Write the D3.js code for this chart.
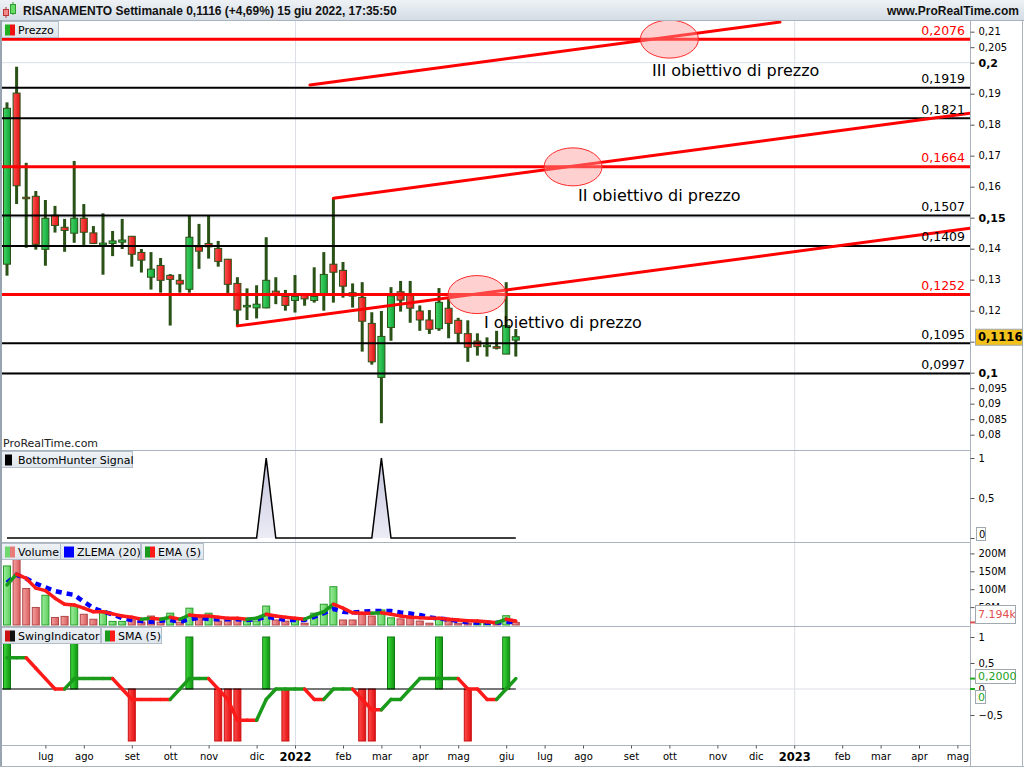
<!DOCTYPE html>
<html><head><meta charset="utf-8">
<script src="https://d3js.org/d3.v7.min.js"></script>
<style>
html,body{margin:0;padding:0;background:#fff;}
svg{display:block;}
text{font-family:"DejaVu Sans",sans-serif;}
</style></head><body>
<svg id="chart" width="1024" height="768"></svg>
<script>
// ---------------- DATA ----------------
const firstMonday = "2021-06-07", endExclusive = "2022-06-14";
const opens  = [0.1350,0.1902,0.1566,0.1569,0.1398,0.1508,0.1469,0.1450,0.1498,0.1451,
                0.1412,0.1417,0.1421,0.1440,0.1388,0.1308,0.1346,0.1314,0.1298,0.1269,
                0.1406,0.1417,0.1401,0.1366,0.1288,0.1213,0.1209,0.1209,0.1263,0.1246,
                0.1233,0.1250,0.1233,0.1250,0.1350,0.1330,0.1258,0.1243,0.1159,0.0985,
                0.1146,0.1261,0.1251,0.1199,0.1170,0.1142,0.1208,0.1169,0.1126,0.1102,
                0.1084,0.1084,0.1060,0.1105];
const highs  = [0.1872,0.1987,0.1677,0.1586,0.1557,0.1538,0.1496,0.1683,0.1544,0.1473,
                0.1514,0.1457,0.1496,0.1441,0.1399,0.1389,0.1370,0.1318,0.1318,0.1508,
                0.1480,0.1508,0.1425,0.1367,0.1308,0.1272,0.1282,0.1437,0.1308,0.1267,
                0.1315,0.1256,0.1340,0.1389,0.1563,0.1357,0.1288,0.1292,0.1195,0.1199,
                0.1276,0.1296,0.1296,0.1217,0.1202,0.1273,0.1240,0.1177,0.1169,0.1127,
                0.1114,0.1135,0.1292,0.1141];
const lows   = [0.1313,0.1544,0.1403,0.1397,0.1345,0.1452,0.1390,0.1419,0.1412,0.1415,
                0.1316,0.1376,0.1399,0.1342,0.1323,0.1268,0.1258,0.1152,0.1258,0.1258,
                0.1335,0.1368,0.1342,0.1256,0.1151,0.1170,0.1175,0.1208,0.1221,0.1200,
                0.1194,0.1216,0.1226,0.1200,0.1226,0.1242,0.1210,0.1068,0.1026,0.0837,
                0.1103,0.1197,0.1161,0.1135,0.1125,0.1135,0.1111,0.1095,0.1035,0.1055,
                0.1052,0.1075,0.1060,0.1052];
const closes = [0.1853,0.1603,0.1565,0.1414,0.1498,0.1475,0.1459,0.1498,0.1453,0.1417,
                0.1418,0.1425,0.1428,0.1382,0.1363,0.1334,0.1298,0.1301,0.1286,0.1437,
                0.1392,0.1406,0.1359,0.1285,0.1202,0.1217,0.1221,0.1298,0.1250,0.1217,
                0.1246,0.1238,0.1246,0.1317,0.1324,0.1279,0.1247,0.1166,0.1035,0.1117,
                0.1248,0.1234,0.1208,0.1170,0.1140,0.1227,0.1159,0.1127,0.1082,0.1084,
                0.1089,0.1079,0.1152,0.1116];
const volumeM = [165,195,102,49,83,21,24,54,30,16,
                 40,10,10,14,8,25,8,33,8,47,
                 23,33,11,14,16,11,11,53,14,11,
                 14,5,33,58,107,14,14,30,25,42,
                 20,17,20,11,5,16,11,5,5,4,
                 4,4,26,7.2];
const emaVolM = [112,142,130,103,96,75,58,56,47,37,
                 37,31,25,21.5,16,19,16,21.5,16,28,
                 25,25,21.5,19,19,16,19,30,25,21.5,
                 19,16,28,37,58,47,34,33,33,34,
                 30,25,22,20,19,19,16,14,12,11,
                 9,6.5,16,11];
const zlemaVolM = [118,140,130,116,105,95,89,84,65,47,
                   37,30,19,14,11,9,12,14,9,16,
                   20,17,16,16,16,14,16,23,19,14,
                   14,14,23,33,45,37,35,37,39,39,
                   39,35,32,28,21.5,17.6,16,11,8,6.4,
                   6.4,6.4,9,8];
const bottomHunter = [0,0,0,0,0,0,0,0,0,0,
                      0,0,0,0,0,0,0,0,0,0,
                      0,0,0,0,0,0,0,1,0,0,
                      0,0,0,0,0,0,0,0,0,1,
                      0,0,0,0,0,0,0,0,0,0,
                      0,0,0,0];
const swing = [1,0,0,0,0,0,0,1,0,0,
               0,0,0,-1,0,0,0,0,0,1,
               0,0,-1,-1,-1,0,0,1,0,-1,
               0,0,0,0,0,0,0,-1,-1,0,
               1,0,0,0,0,1,0,0,-1,0,
               0,0,1,0];
const swingSma = [0.6,0.6,0.6,0.4,0.2,0,0,0.2,0.2,0.2,
                  0.2,0.2,0,-0.2,-0.2,-0.2,-0.2,-0.2,0,0.2,
                  0.2,0.2,0,-0.2,-0.6,-0.6,-0.6,-0.2,0,0,
                  0,0,-0.2,-0.2,0,0,0,-0.2,-0.4,-0.4,
                  -0.2,-0.2,0,0.2,0.2,0.2,0.2,0.2,0,0,
                  -0.2,-0.2,0,0.2];
const monthTickDates = ["2021-07-05","2021-08-02","2021-09-06","2021-10-04","2021-11-01","2021-12-06",
                        "2022-01-03","2022-02-07","2022-03-07","2022-04-04","2022-05-02","2022-06-06",
                        "2022-07-04","2022-08-01","2022-09-05","2022-10-03","2022-11-07","2022-12-05",
                        "2023-01-02","2023-02-06","2023-03-06","2023-04-03","2023-05-01"];
const monthTickLabels = ["lug","ago","set","ott","nov","dic","2022","feb","mar","apr","mag","giu",
                         "lug","ago","set","ott","nov","dic","2023","feb","mar","apr","mag"];
const priceTicks = [0.08,0.085,0.09,0.095,0.1,0.11,0.12,0.13,0.14,0.15,0.16,0.17,0.18,0.19,0.2,0.205,0.21];
const priceTicksBold = [0.1,0.15,0.2];
const priceTicksHidden = [0.11];   // label covered by the last-price box
const levelValues = [0.2076,0.1919,0.1821,0.1664,0.1507,0.1409,0.1252,0.1095,0.0997];
const levelIsTarget = [true,false,false,true,false,false,true,false,false];
const trendStartWeek = [24,34,31.56], trendStartPrice = [0.1151,0.1563,0.1928];
const trendEndWeek = [100.3,100.3,80.52], trendEndPrice = [0.1466,0.1837,0.2131];
const targetWeek = [48.96,58.96,69.0], targetPrice = [0.1252,0.1664,0.2076];
const targetLabels = ["I obiettivo di prezzo","II obiettivo di prezzo","III obiettivo di prezzo"];
const targetLabelWeek = [49.69,59.48,67.19], targetLabelPrice = [0.1143,0.1554,0.1957];
const lastPrice = "0,1116", lastVolume = "7.194k", lastSma = "0,2000", lastSwing = "0", lastBH = "0";
const title = "RISANAMENTO Settimanale 0,1116 (+4,69%) 15 giu 2022, 17:35:50";

// ---------------- SETUP ----------------
const svg = d3.select("#chart");
const defs = svg.append("defs");
function grad(id, c1, c2, vertical){
  const g = defs.append("linearGradient").attr("id", id)
    .attr("x1",0).attr("y1",0).attr("x2",vertical?0:1).attr("y2",vertical?1:0);
  g.append("stop").attr("offset","0%").attr("stop-color",c1);
  g.append("stop").attr("offset","100%").attr("stop-color",c2);
}
grad("hdr","#eef2f6","#d4dce5",true);
grad("cUp","#40d664","#12a238");
grad("cDn","#ff5252","#e01212");
grad("vUp","#9cef9c","#5ccd5c");
grad("vDn","#f4a0a0","#d95e5e");
grad("sUp","#3cd83c","#0f940f");
grad("sDn","#ff4c4c","#e21010");
grad("bhF","#c4c4de","#ececf6",true);
grad("lgd","#eef2f6","#dfe6ec",true);

const parse = d3.utcParse("%Y-%m-%d");
const weeks = d3.utcMonday.range(parse(firstMonday), parse(endExclusive));
const W0 = weeks[0].getTime(), WEEK = 7*864e5;
const PLOT_L = 2, PLOT_R = 970;
const x = d3.scaleUtc().domain([weeks[0], weeks[weeks.length-1]]).range([7, 7 + 9.6*(weeks.length-1)]);
const xw = k => x(new Date(W0 + k*WEEK));

const yP  = d3.scaleLinear().domain([0.07506,0.21377]).range([450,20]);
const yBH = d3.scaleLinear().domain([0,1]).range([538,458]);
const yV  = d3.scaleLinear().domain([0,200]).range([625,553.4]);
const yS  = d3.scaleLinear().domain([-0.5,1]).range([715,637]);
const comma = v => String(+v.toFixed(4)).replace(".", ",").replace("-", "\u2212");

function clip(id, y0, y1){
  defs.append("clipPath").attr("id",id).append("rect")
    .attr("x",PLOT_L).attr("y",y0).attr("width",PLOT_R-PLOT_L).attr("height",y1-y0);
}
clip("cpP",21,450); clip("cpB",451,542); clip("cpV",543,626); clip("cpS",627,745);

// ---------------- HEADER / FRAME ----------------
svg.append("rect").attr("x",0).attr("y",0).attr("width",1024).attr("height",20).attr("fill","url(#hdr)");
svg.append("line").attr("x1",0).attr("x2",1024).attr("y1",20.5).attr("y2",20.5).attr("stroke","#a8b3be");
svg.append("line").attr("x1",6).attr("x2",6).attr("y1",7).attr("y2",18).attr("stroke","#a33").attr("stroke-width",1);
svg.append("rect").attr("x",3.5).attr("y",9.5).attr("width",5).attr("height",6).attr("fill","#f08a8a").attr("stroke","#b33");
svg.append("line").attr("x1",13).attr("x2",13).attr("y1",2).attr("y2",15).attr("stroke","#393").attr("stroke-width",1);
svg.append("rect").attr("x",10.5).attr("y",4.5).attr("width",5).attr("height",9).attr("fill","#66dd66").attr("stroke","#393");
svg.append("text").attr("x",23).attr("y",14.5).text(title)
  .style("font-family","'Liberation Sans',Arial,sans-serif").style("font-weight","bold").style("font-size","12px").attr("fill","#111");
svg.append("text").attr("x",1019).attr("y",14.5).attr("text-anchor","end").text("www.ProRealTime.com")
  .style("font-family","'Liberation Sans',Arial,sans-serif").style("font-weight","bold").style("font-size","12px").attr("fill","#111");

// ---------------- GRID ----------------
const grid = svg.append("g");
["2022-01-03","2023-01-02"].forEach(d=>{
  grid.append("line").attr("x1",x(parse(d))+0.5).attr("x2",x(parse(d))+0.5).attr("y1",21).attr("y2",745)
    .attr("stroke","#dcdfe7").attr("stroke-width",1);
});
priceTicksBold.forEach(v=>{
  grid.append("line").attr("x1",PLOT_L).attr("x2",PLOT_R).attr("y1",yP(v)).attr("y2",yP(v))
    .attr("stroke","#dcdfe7").attr("stroke-width",1);
});
grid.append("line").attr("x1",PLOT_L).attr("x2",PLOT_R).attr("y1",yS(0)).attr("y2",yS(0)).attr("stroke","#dcdfe7");

// ---------------- PRICE PANEL ----------------
const pG = svg.append("g").attr("clip-path","url(#cpP)");
const cg = pG.append("g");
weeks.forEach((d,i)=>{
  const cx = x(d), up = closes[i] >= opens[i];
  cg.append("line").attr("x1",cx).attr("x2",cx).attr("y1",yP(highs[i])).attr("y2",yP(lows[i]))
    .attr("stroke","#2b5216").attr("stroke-width",3);
  const yt = yP(Math.max(opens[i],closes[i])), yb = yP(Math.min(opens[i],closes[i]));
  cg.append("rect").attr("x",cx-3.5).attr("y",yt).attr("width",7).attr("height",Math.max(1.5,yb-yt))
    .attr("fill", up ? "url(#cUp)" : "url(#cDn)").attr("stroke","#2b5216").attr("stroke-width",1);
});
levelValues.forEach((v,i)=>{
  pG.append("line").attr("x1",PLOT_L).attr("x2",PLOT_R).attr("y1",yP(v)).attr("y2",yP(v))
    .attr("stroke", levelIsTarget[i] ? "#ff0000" : "#000").attr("stroke-width", levelIsTarget[i] ? 3 : 2);
});
trendStartWeek.forEach((s,i)=>{
  pG.append("line").attr("x1",xw(s)).attr("y1",yP(trendStartPrice[i]))
    .attr("x2",xw(trendEndWeek[i])).attr("y2",yP(trendEndPrice[i]))
    .attr("stroke","#ff0000").attr("stroke-width",3).attr("stroke-linecap","round");
});
targetWeek.forEach((w,i)=>{
  pG.append("ellipse").attr("cx",xw(w)).attr("cy",yP(targetPrice[i])).attr("rx",29).attr("ry",19)
    .attr("fill","rgba(255,150,150,0.45)").attr("stroke","#ff2a2a").attr("stroke-width",1);
});
levelValues.forEach((v,i)=>{
  pG.append("text").attr("x",965).attr("y",yP(v)-4.5).attr("text-anchor","end").text(comma(v))
    .style("font-size","12.5px").attr("fill", levelIsTarget[i] ? "#ff0000" : "#000");
});
targetLabels.forEach((t,i)=>{
  pG.append("text").attr("x",xw(targetLabelWeek[i])).attr("y",yP(targetLabelPrice[i])).text(t)
    .style("font-size","16px").attr("fill","#000");
});
svg.append("text").attr("x",3).attr("y",447).text("ProRealTime.com").style("font-size","11px").attr("fill","#222");

// ---------------- BOTTOM HUNTER ----------------
const bG = svg.append("g").attr("clip-path","url(#cpB)");
bG.append("path").datum(bottomHunter)
  .attr("d", d3.area().x((d,i)=>x(weeks[i])).y0(yBH(0)).y1(d=>yBH(d)))
  .attr("fill","url(#bhF)");
bG.append("path").datum(bottomHunter)
  .attr("d", d3.line().x((d,i)=>x(weeks[i])).y(d=>yBH(d)))
  .attr("fill","none").attr("stroke","#000").attr("stroke-width",1.5);

// ---------------- VOLUME ----------------
const vG = svg.append("g").attr("clip-path","url(#cpV)");
weeks.forEach((d,i)=>{
  const up = i===0 || closes[i] >= closes[i-1];
  vG.append("rect").attr("x",x(d)-3.5).attr("y",yV(volumeM[i])).attr("width",7)
    .attr("height",yV(0)-yV(volumeM[i]))
    .attr("fill", up ? "url(#vUp)" : "url(#vDn)").attr("stroke", up ? "#2a9e2a" : "#b04848").attr("stroke-width",1);
});
vG.append("path").datum(zlemaVolM)
  .attr("d", d3.line().x((d,i)=>x(weeks[i])).y(d=>yV(d)))
  .attr("fill","none").attr("stroke","#0000ff").attr("stroke-width",4.5).attr("stroke-dasharray","6,5");
function colouredLine(g, vals, ys, w){
  let dir = 1;
  for (let i=1;i<vals.length;i++){
    const dv = vals[i]-vals[i-1];
    if (dv>0) dir = 1; else if (dv<0) dir = -1;
    g.append("line").attr("x1",x(weeks[i-1])).attr("y1",ys(vals[i-1]))
      .attr("x2",x(weeks[i])).attr("y2",ys(vals[i]))
      .attr("stroke", dir>0 ? "#1a9a1a" : "#ff1a1a").attr("stroke-width",w).attr("stroke-linecap","round");
  }
}
colouredLine(vG, emaVolM, yV, 3.5);

// ---------------- SWING ----------------
const sG = svg.append("g").attr("clip-path","url(#cpS)");
weeks.forEach((d,i)=>{
  if (swing[i]===0) return;
  const y0 = yS(0), y1 = yS(swing[i]);
  sG.append("rect").attr("x",x(d)-3.5).attr("y",Math.min(y0,y1)).attr("width",7).attr("height",Math.abs(y1-y0))
    .attr("fill", swing[i]>0 ? "url(#sUp)" : "url(#sDn)").attr("stroke", swing[i]>0 ? "#0f7a0f" : "#c81010");
});
sG.append("line").attr("x1",PLOT_L).attr("x2",x(weeks[weeks.length-1])).attr("y1",yS(0)).attr("y2",yS(0))
  .attr("stroke","#000").attr("stroke-width",1.2);
colouredLine(sG, swingSma, yS, 3.5);

// ---------------- LEGENDS ----------------
function legend(x0,y0,w,label,icon){
  const g = svg.append("g");
  g.append("rect").attr("x",x0+0.5).attr("y",y0+0.5).attr("width",w).attr("height",16)
    .attr("fill","url(#lgd)").attr("stroke","#b4bec8");
  const ix = x0+4, iy = y0+3.5;
  if (icon.length===1) g.append("rect").attr("x",ix).attr("y",iy).attr("width",icon[0][1]||10).attr("height",11).attr("fill",icon[0][0]);
  else { g.append("rect").attr("x",ix).attr("y",iy).attr("width",5).attr("height",11).attr("fill",icon[0]);
         g.append("rect").attr("x",ix+5).attr("y",iy).attr("width",5).attr("height",11).attr("fill",icon[1]); }
  g.append("text").attr("x",x0+17).attr("y",y0+12.5).text(label).style("font-size","11px").attr("fill","#000");
}
legend(1,21,57,"Prezzo",["#22b022","#ee1111"]);
legend(1,451,131,"BottomHunter Signal",[["#000",7]]);
legend(1,543,59,"Volume",["#6fd86f","#e87c7c"]);
legend(60,543,80,"ZLEMA (20)",[["#0000ff",10]]);
legend(141,543,62,"EMA (5)",["#1a9a1a","#ff1a1a"]);
legend(1,627,99,"SwingIndicator",["#cc1111","#111"]);
legend(101,627,60,"SMA (5)",["#1a9a1a","#ff1a1a"]);

// ---------------- PANEL SEPARATORS / FRAME ----------------
[450.5,542.5,626.5,745.5].forEach(y=>{
  svg.append("line").attr("x1",0).attr("x2",PLOT_R).attr("y1",y).attr("y2",y).attr("stroke","#a8b3be");
});
svg.append("line").attr("x1",1).attr("x2",1).attr("y1",20).attr("y2",767).attr("stroke","#98a4b0").attr("stroke-width",2);
svg.append("line").attr("x1",970.5).attr("x2",970.5).attr("y1",20).attr("y2",767).attr("stroke","#a8b3be");
svg.append("line").attr("x1",1022.5).attr("x2",1022.5).attr("y1",20).attr("y2",767).attr("stroke","#a8b3be");
svg.append("line").attr("x1",0).attr("x2",1024).attr("y1",766.5).attr("y2",766.5).attr("stroke","#a8b3be");

// ---------------- AXES ----------------
function styleAxis(g){ g.select(".domain").remove(); g.selectAll(".tick line").attr("stroke","#555");
  g.selectAll("text").attr("fill","#000").style("font-size","10px").style("font-family","'DejaVu Sans',sans-serif"); }
const aP = svg.append("g").attr("transform","translate(970.5,0)")
  .call(d3.axisRight(yP).tickValues(priceTicks).tickFormat(d=>priceTicksHidden.includes(d)?"":comma(d)).tickSize(4).tickPadding(4)).call(styleAxis);
aP.selectAll(".tick text").filter(d=>priceTicksBold.includes(d)).style("font-weight","bold").style("font-size","11px");
svg.append("g").attr("transform","translate(970.5,0)")
  .call(d3.axisRight(yBH).tickValues([0,0.5,1]).tickFormat(d=>d===0?"":comma(d)).tickSize(4).tickPadding(4)).call(styleAxis);
svg.append("g").attr("transform","translate(970.5,0)")
  .call(d3.axisRight(yV).tickValues([50,100,150,200]).tickFormat(d=>d+"M").tickSize(4).tickPadding(4)).call(styleAxis);
svg.append("g").attr("transform","translate(970.5,0)")
  .call(d3.axisRight(yS).tickValues([-0.5,0,0.5,1]).tickFormat(comma).tickSize(4).tickPadding(4)).call(styleAxis);
const aX = svg.append("g").attr("transform","translate(0,745.5)")
  .call(d3.axisBottom(x).tickValues(monthTickDates.map(parse)).tickFormat((d,i)=>monthTickLabels[i]).tickSize(3).tickPadding(4))
  .call(styleAxis);
aX.selectAll(".tick text").filter((d,i)=>/^\d{4}$/.test(monthTickLabels[i])).style("font-weight","bold").style("font-size","11.5px");

// ---------------- LAST VALUE BOXES ----------------
function valBox(x0,y0,w,h,txt,fill,col,bold,fs){
  svg.append("rect").attr("x",x0+0.5).attr("y",y0+0.5).attr("width",w).attr("height",h)
    .attr("fill",fill).attr("stroke","#a0a8b0");
  svg.append("text").attr("x",x0+3).attr("y",y0+h/2+4).text(txt).attr("fill",col)
    .style("font-size",fs+"px").style("font-weight",bold?"bold":"normal");
}
valBox(975,yP(0.1116)-8,47,16,lastPrice,"#f3c21c","#000",true,11.5);
valBox(976,yBH(0)-11,9,13,lastBH,"#fff","#000",false,10);
svg.append("line").attr("x1",970).attr("x2",975).attr("y1",yV(7.2)).attr("y2",yV(7.2)).attr("stroke","#e05050").attr("stroke-width",2);
valBox(975,605,40,18,lastVolume,"#fff","#e05050",false,11);
svg.append("line").attr("x1",970).attr("x2",975).attr("y1",yS(0.2)).attr("y2",yS(0.2)).attr("stroke","#22aa22").attr("stroke-width",2);
svg.append("line").attr("x1",970).attr("x2",975).attr("y1",yS(0)).attr("y2",yS(0)).attr("stroke","#22aa22").attr("stroke-width",2);
valBox(975,669,40,14,lastSma,"#fff","#22a022",false,11);
valBox(975,690,10,13,lastSwing,"#fff","#22a022",false,11);
</script>
</body></html>
